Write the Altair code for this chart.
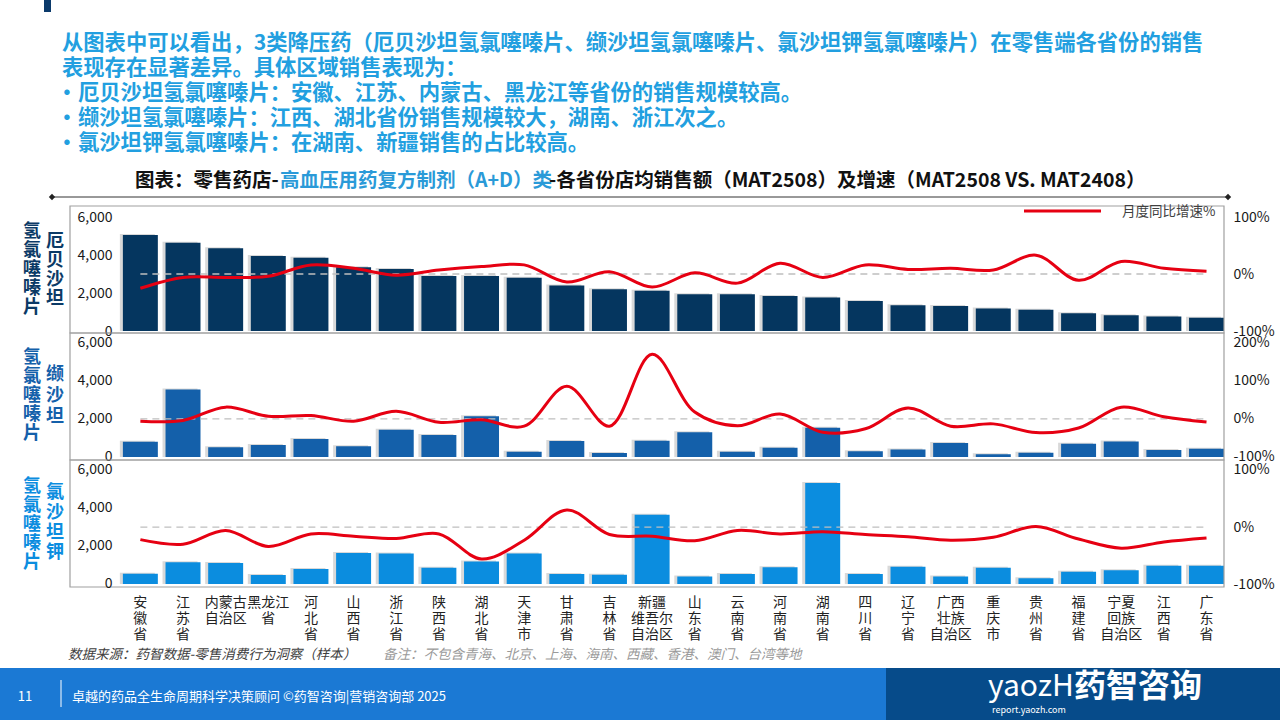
import altair as alt
import pandas as pd

FONT = "Noto Sans CJK SC"

provinces = ["安徽省", "江苏省", "内蒙古自治区", "黑龙江省", "河北省", "山西省", "浙江省", "陕西省",
             "湖北省", "天津市", "甘肃省", "吉林省", "新疆维吾尔自治区", "山东省", "云南省", "河南省",
             "湖南省", "四川省", "辽宁省", "广西壮族自治区", "重庆市", "贵州省", "福建省",
             "宁夏回族自治区", "江西省", "广东省"]
axis_labels = ["安\n徽\n省", "江\n苏\n省", "内蒙古\n自治区", "黑龙江\n省", "河\n北\n省", "山\n西\n省",
               "浙\n江\n省", "陕\n西\n省", "湖\n北\n省", "天\n津\n市", "甘\n肃\n省", "吉\n林\n省",
               "新疆\n维吾尔\n自治区", "山\n东\n省", "云\n南\n省", "河\n南\n省", "湖\n南\n省",
               "四\n川\n省", "辽\n宁\n省", "广西\n壮族\n自治区", "重\n庆\n市", "贵\n州\n省",
               "福\n建\n省", "宁夏\n回族\n自治区", "江\n西\n省", "广\n东\n省"]

# 店均销售额（元）与同比增速（%）
irb_sales = [5050, 4650, 4350, 3950, 3860, 3350, 3260, 2900, 2900, 2800, 2400, 2200, 2120,
             1930, 1930, 1840, 1770, 1580, 1350, 1320, 1190, 1120, 930, 825, 770, 700]
irb_growth = [-25, -6, -6, -4, 16, 10, -2, 7, 13, 16, -14, 4, -23,
              2, -16, 19, -6, 16, 8, 10, 7, 33, -11, 22, 10, 5]
val_sales = [800, 3550, 510, 630, 950, 560, 1440, 1160, 2140, 280, 840, 210, 860,
             1300, 280, 490, 1540, 300, 400, 740, 140, 230, 700, 810, 370, 440]
val_growth = [-6, -4, 31, 7, 9, -6, 20, -9, -2, -19, 86, -19, 170,
              18, -18, 13, -35, -26, 29, -19, -13, -36, -24, 31, 6, -8]
los_sales = [540, 1140, 1100, 470, 790, 1630, 1600, 860, 1190, 1600, 530, 490, 3640,
             400, 530, 880, 5320, 530, 910, 400, 860, 300, 650, 720, 960, 960]
los_growth = [-22, -30, -6, -34, -12, -16, -20, -12, -56, -23, 30, -13, -16,
              -24, -6, -12, -8, -13, -17, -23, -18, 1, -21, -37, -26, -19]

header_lines = [
    "从图表中可以看出，3类降压药（厄贝沙坦氢氯噻嗪片、缬沙坦氢氯噻嗪片、氯沙坦钾氢氯噻嗪片）在零售端各省份的销售",
    "表现存在显著差异。具体区域销售表现为：",
]
bullet_lines = [
    "厄贝沙坦氢氯噻嗪片：安徽、江苏、内蒙古、黑龙江等省份的销售规模较高。",
    "缬沙坦氢氯噻嗪片：江西、湖北省份销售规模较大，湖南、浙江次之。",
    "氯沙坦钾氢氯噻嗪片：在湖南、新疆销售的占比较高。",
]
title_parts = ["图表：零售药店-", "高血压用药复方制剂（A+D）类",
               "-各省份店均销售额（MAT2508）及增速（MAT2508 VS. MAT2408）"]
legend_label = "月度同比增速%"
source_note = "数据来源：药智数据-零售消费行为洞察（样本）"
remark_note = "备注：不包含青海、北京、上海、海南、西藏、香港、澳门、台湾等地"
footer_text = "卓越的药品全生命周期科学决策顾问 ©药智咨询|营销咨询部 2025"

df = pd.DataFrame({
    "省份": provinces, "标签": axis_labels,
    "irb": irb_sales, "irb_g": irb_growth,
    "val": val_sales, "val_g": val_growth,
    "los": los_sales, "los_g": los_growth,
})
df["zero"] = 0

W, H = 1154, 127
one = pd.DataFrame({"k": [0]})
BLUE_TXT = "#229FE0"
RED = "#E60012"

xscale = alt.Scale(domain=provinces, paddingInner=0.18, paddingOuter=0.62, align=1)
X = alt.X("省份:N", scale=xscale, sort=provinces, axis=None)


def txt(s, x, y, size, color, weight="normal", align="left", baseline="middle",
        style="normal", line_height=None):
    props = dict(align=align, baseline=baseline, fontSize=size, color=color,
                 fontWeight=weight, font=FONT, fontStyle=style)
    if line_height:
        props["lineHeight"] = line_height
        props["lineBreak"] = "\n"
    return alt.Chart(pd.DataFrame({"t": [s]})).mark_text(**props).encode(
        text="t:N", x=alt.value(x), y=alt.value(y))


def box(x1, x2, y1, y2, color):
    return alt.Chart(one).mark_rect(color=color).encode(
        x=alt.value(x1), x2=alt.value(x2), y=alt.value(y1), y2=alt.value(y2))


def frame():
    return alt.Chart(one).mark_rect(fillOpacity=0, stroke="#A0A0A0", strokeWidth=1.2).encode(
        x=alt.value(0), x2=alt.value(W), y=alt.value(0), y2=alt.value(H))


def panel(sales, growth, color, left_dom, right_dom, right_vals, under, over):
    left_axis = alt.Axis(orient="left", offset=-44, values=[0, 2000, 4000, 6000],
                         labelExpr="format(datum.value, ',')", zindex=2,
                         domain=False, ticks=False, grid=False, labelFontSize=14,
                         labelPadding=2, labelColor="#1a1a1a", title=None, labelFont=FONT)
    right_axis = alt.Axis(orient="right", values=right_vals, labelExpr="datum.value + '%'",
                          domain=False, ticks=False, grid=False, labelFontSize=14, zindex=2,
                          labelPadding=9, labelColor="#1a1a1a", title=None, labelFont=FONT)
    ys = alt.Scale(domain=left_dom, nice=False, zero=False)
    yr = alt.Scale(domain=right_dom, nice=False, zero=False)
    base = alt.Chart(df)
    shadow = base.mark_bar(color="#808080", opacity=0.3, xOffset=-3, yOffset=-1).encode(
        x=X, y=alt.Y(f"{sales}:Q", scale=ys, axis=left_axis), y2=alt.datum(0))
    bars = base.mark_bar(color=color).encode(
        x=X, y=alt.Y(f"{sales}:Q", scale=ys, axis=left_axis), y2=alt.datum(0))
    zero = base.mark_line(color="#BFBFBF", strokeDash=[7, 5], strokeWidth=1.3).encode(
        x=X, y=alt.Y("zero:Q", scale=yr, axis=right_axis))
    line = base.mark_line(color=RED, strokeWidth=3, interpolate="catmull-rom").encode(
        x=X, y=alt.Y(f"{growth}:Q", scale=yr, axis=right_axis))
    return alt.layer(*under, alt.layer(shadow, bars), alt.layer(zero, line), frame(), *over) \
        .resolve_scale(y="independent").properties(width=W, height=H)


def side_title(outer, inner, color, y_outer, y_inner, lh_inner):
    # 多行文字首行居中于 y，故按首字位置给出
    return [txt(outer, -38, y_outer, 18, color, "bold", "center", line_height=19),
            txt(inner, -15, y_inner, 18, color, "bold", "center", line_height=lh_inner)]


# 面板一：页面背景、导语、图表标题与图例
p1_under = [box(-70, 1210, -206, 514, "white"), box(-26, -19, -206, -194, "#0B3A6B")]
p1_over = [
    txt(header_lines[0], -8, -162, 21.3, BLUE_TXT, "bold"),
    txt(header_lines[1], -8, -137, 21.3, BLUE_TXT, "bold"),
]
for i, s in enumerate(bullet_lines):
    p1_over.append(txt("•", -3, -112 + 25 * i, 21.3, BLUE_TXT, "bold", "center"))
    p1_over.append(txt(s, 8, -112 + 25 * i, 21.3, BLUE_TXT, "bold"))
p1_over += [
    txt(title_parts[0], 65, -25, 19.5, "#111111", "bold"),
    txt(title_parts[1], 210, -25, 19.5, "#2A9AD8", "bold"),
    txt(title_parts[2], 479, -25, 19.5, "#111111", "bold"),
    alt.Chart(one).mark_rule(color="#333333", strokeWidth=1).encode(
        x=alt.value(-18), x2=alt.value(1158), y=alt.value(-9)),
    alt.Chart(one).mark_point(shape="diamond", filled=True, size=40, color="#222222", opacity=1).encode(
        x=alt.value(-18), y=alt.value(-9)),
    alt.Chart(one).mark_point(shape="diamond", filled=True, size=40, color="#222222", opacity=1).encode(
        x=alt.value(1158), y=alt.value(-9)),
    alt.Chart(one).mark_rule(color=RED, strokeWidth=3).encode(
        x=alt.value(954), x2=alt.value(1031), y=alt.value(5)),
    txt(legend_label, 1052, 6, 13.5, "#404040"),
] + side_title("氢\n氯\n噻\n嗪\n片", "厄\n贝\n沙\n坦", "#0B3A66", 26, 36, 19)

p1 = panel("irb", "irb_g", "#05365F", [-105, 6580], [-103.5, 119.3], [-100, 0, 100], p1_under, p1_over)

p2 = panel("val", "val_g", "#1460AA", [-158, 6526], [-108, 226], [-100, 0, 100, 200], [],
           side_title("氢\n氯\n噻\n嗪\n片", "缬\n沙\n坦", "#1460AA", 25, 42, 21))

# 面板三：省份标签、数据来源与页脚
p3_over = side_title("氢\n氯\n噻\n嗪\n片", "氯\n沙\n坦\n钾", "#0B8DDF", 27, 33, 20) + [
    alt.Chart(df).mark_text(font=FONT, fontSize=14, color="#222222", baseline="top",
                            lineBreak="\n", lineHeight=16).encode(
        x=X, y=alt.value(136), text="标签:N"),
    txt(source_note, -2, 195, 13.5, "#404040", style="italic"),
    txt(remark_note, 313, 195, 13.5, "#9A9A9A", style="italic"),
    box(-70, 816, 208, 260, "#1B79D4"),
    box(816, 1210, 208, 260, "#064B8A"),
    txt("11", -45, 237, 13, "white", align="center"),
    alt.Chart(one).mark_rule(color="white", strokeWidth=1).encode(
        x=alt.value(-9), y=alt.value(220), y2=alt.value(247)),
    txt(footer_text, 2, 237, 13, "white"),
    txt("yaozH", 918, 227, 30, "white"),
    txt("药智咨询", 1004, 227, 32, "white", "bold"),
    txt("report.yaozh.com", 922, 250, 9, "white"),
]
p3 = panel("los", "los_g", "#0B8DDF", [-158, 6526], [-105, 117.5], [-100, 0, 100], [], p3_over)

chart = alt.vconcat(p1, p2, p3, spacing=0, bounds="flush").properties(
    padding=0, background="white"
).configure_view(strokeWidth=0)

chart.save("out.html", embed_options={"renderer": "svg", "actions": False})
